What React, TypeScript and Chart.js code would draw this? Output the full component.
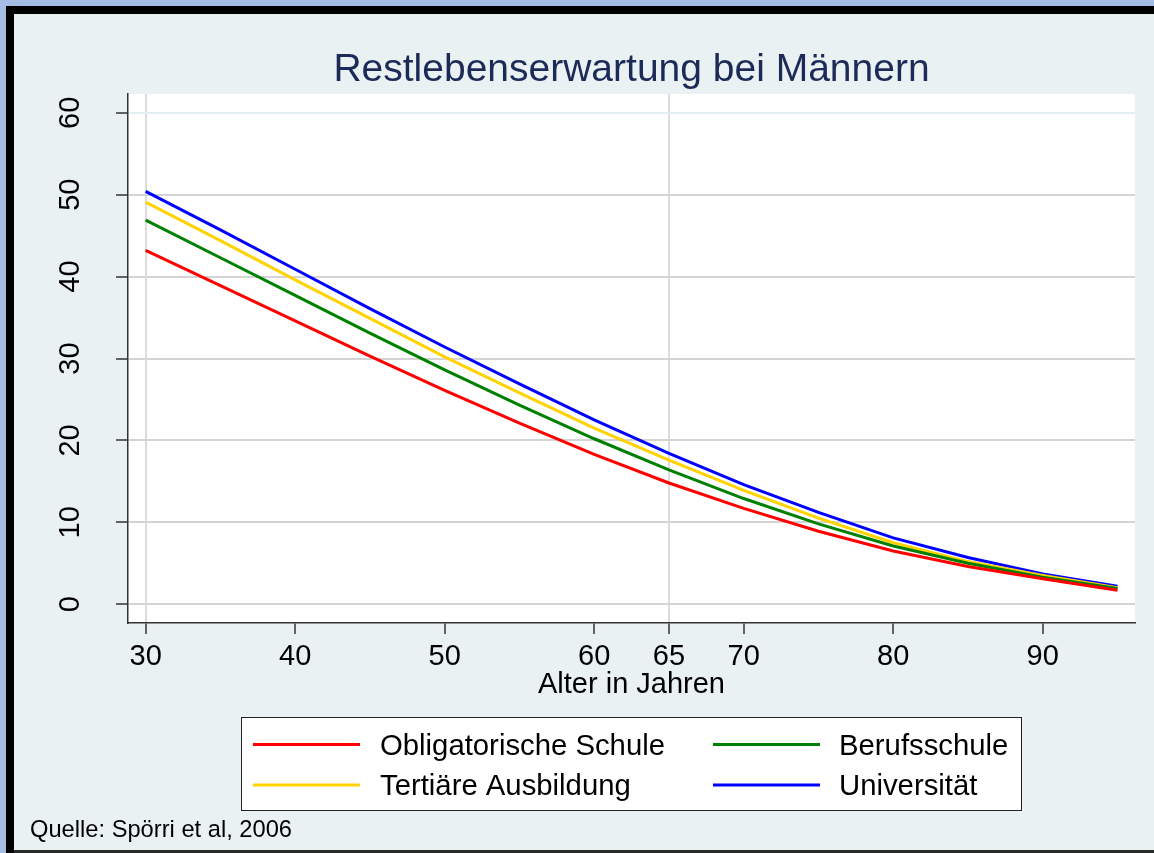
import React, { useEffect, useRef } from "react";
import { Chart, registerables } from "chart.js";

Chart.register(...registerables);

// ---- data ----
const AGES = [30, 35, 40, 45, 50, 55, 60, 65, 70, 75, 80, 85, 90, 95];
const OBLIGATORISCHE_SCHULE = [43.2, 38.9, 34.6, 30.3, 26.1, 22.1, 18.3, 14.8, 11.7, 8.9, 6.5, 4.6, 3.1, 1.7];
const BERUFSSCHULE = [46.9, 42.3, 37.7, 33.1, 28.6, 24.3, 20.2, 16.4, 12.9, 9.8, 7.1, 5.0, 3.3, 1.9];
const TERTIAERE_AUSBILDUNG = [49.1, 44.4, 39.6, 34.9, 30.2, 25.8, 21.5, 17.6, 13.9, 10.5, 7.5, 5.2, 3.5, 2.0];
const UNIVERSITAET = [50.4, 45.7, 40.9, 36.1, 31.4, 26.9, 22.5, 18.4, 14.6, 11.2, 8.1, 5.7, 3.7, 2.2];

const SERIES_LABELS = ["Obligatorische Schule", "Berufsschule", "Tertiäre Ausbildung", "Universität"];
const X_TICKS = [30, 40, 50, 60, 65, 70, 80, 90];
const X_GRID_VALUES = [30, 65];
const Y_TICKS = [0, 10, 20, 30, 40, 50, 60];

const TITLE = "Restlebenserwartung bei Männern";
const X_TITLE = "Alter in Jahren";
const SOURCE = "Quelle: Spörri et al, 2006";

const FONT = "'Liberation Sans', Arial, Helvetica, sans-serif";
const W = 1154;
const H = 853;

const toPoints = (vals: number[]) => AGES.map((a, i) => ({ x: a, y: vals[i] }));

const decorPlugin = {
  id: "decor",
  beforeDraw(chart: any) {
    const ctx = chart.ctx;
    const a = chart.chartArea;
    ctx.save();
    ctx.fillStyle = "#a5bde6";
    ctx.fillRect(0, 0, W, H);
    ctx.fillStyle = "#000000";
    ctx.fillRect(6, 6, W - 6, H - 6);
    ctx.fillStyle = "#eaf1f3";
    ctx.fillRect(14, 14, W - 14, 836);
    ctx.fillStyle = "#2a2a2a";
    ctx.fillRect(14, 850, W - 14, 3);
    ctx.fillStyle = "#ffffff";
    ctx.fillRect(a.left, a.top, a.right - a.left, a.bottom - a.top);
    ctx.restore();
  },
  afterDraw(chart: any) {
    const ctx = chart.ctx;
    const a = chart.chartArea;
    const cx = (a.left + a.right) / 2;
    ctx.save();
    // title
    ctx.fillStyle = "#1c2a58";
    ctx.font = `39px ${FONT}`;
    ctx.textAlign = "center";
    ctx.textBaseline = "alphabetic";
    ctx.fillText(TITLE, cx, 81);

    // y tick labels (rotated)
    const ys = chart.scales.y;
    ctx.fillStyle = "#000000";
    ctx.font = `29px ${FONT}`;
    for (const t of ys.ticks) {
      const py = ys.getPixelForValue(t.value);
      ctx.save();
      ctx.translate(79, py);
      ctx.rotate(-Math.PI / 2);
      ctx.textAlign = "center";
      ctx.textBaseline = "alphabetic";
      ctx.fillText(String(t.value), 0, 0);
      ctx.restore();
    }

    // x title
    ctx.font = `29px ${FONT}`;
    ctx.textAlign = "center";
    ctx.fillText(X_TITLE, cx, 693);

    // legend
    const box = { x: 241, y: 717, w: 780, h: 93 };
    ctx.fillStyle = "#ffffff";
    ctx.fillRect(box.x, box.y, box.w, box.h);
    ctx.strokeStyle = "#222222";
    ctx.lineWidth = 1;
    ctx.strokeRect(box.x + 0.5, box.y + 0.5, box.w, box.h);
    const cols = [{ lx: 253, tx: 380 }, { lx: 713, tx: 839 }];
    const rows = [{ ly: 744.5, ty: 755 }, { ly: 785, ty: 795 }];
    chart.data.datasets.forEach((ds: any, i: number) => {
      const c = cols[i % 2];
      const r = rows[Math.floor(i / 2)];
      ctx.strokeStyle = ds.borderColor;
      ctx.lineWidth = 3;
      ctx.beginPath();
      ctx.moveTo(c.lx, r.ly);
      ctx.lineTo(c.lx + 107, r.ly);
      ctx.stroke();
      ctx.fillStyle = "#000000";
      ctx.font = `29.3px ${FONT}`;
      ctx.textAlign = "left";
      ctx.fillText(ds.label, c.tx, r.ty);
    });

    // source
    ctx.font = `23.7px ${FONT}`;
    ctx.textAlign = "left";
    ctx.fillStyle = "#000000";
    ctx.fillText(SOURCE, 30, 837);
    ctx.restore();
  },
};

export default function App() {
  const ref = useRef<HTMLCanvasElement | null>(null);

  useEffect(() => {
    if (!ref.current) return;
    const colors = ["#ff0000", "#008000", "#ffd200", "#0000ff"];
    const series = [OBLIGATORISCHE_SCHULE, BERUFSSCHULE, TERTIAERE_AUSBILDUNG, UNIVERSITAET];
    const chart = new Chart(ref.current, {
      type: "line",
      data: {
        datasets: series.map((s, i) => ({
          label: SERIES_LABELS[i],
          data: toPoints(s),
          borderColor: colors[i],
          backgroundColor: colors[i],
          borderWidth: 3,
          pointRadius: 0,
          tension: 0,
          fill: false,
        })),
      },
      options: {
        responsive: false,
        animation: false,
        devicePixelRatio: 1,
        layout: { padding: { top: 94, right: 19, left: 0, bottom: 0 } },
        plugins: {
          legend: { display: false },
          title: { display: false },
          tooltip: { enabled: false },
        },
        scales: {
          x: {
            type: "linear",
            min: 28.82,
            max: 96.17,
            afterBuildTicks: (scale: any) => {
              scale.ticks = X_TICKS.map((v) => ({ value: v }));
            },
            afterFit: (scale: any) => {
              scale.height = 230;
            },
            ticks: {
              autoSkip: false,
              maxRotation: 0,
              minRotation: 0,
              padding: 6,
              color: "#000000",
              font: { family: FONT, size: 29 },
              callback: (v: any) => String(v),
            },
            grid: {
              color: (c: any) => (c.tick && X_GRID_VALUES.includes(c.tick.value) ? "#dcdcdc" : "rgba(0,0,0,0)"),
              lineWidth: 2,
              drawTicks: true,
              tickLength: 11,
              tickColor: "#333333",
              tickWidth: 1.5,
            },
            border: { display: true, color: "#333333", width: 1.5 },
          },
          y: {
            type: "linear",
            min: -2.3,
            max: 62.3,
            afterBuildTicks: (scale: any) => {
              scale.ticks = Y_TICKS.map((v) => ({ value: v }));
            },
            afterFit: (scale: any) => {
              scale.width = 128;
            },
            ticks: { display: false },
            grid: {
              color: (c: any) => (c.tick && c.tick.value === 60 ? "#e3eef0" : "#d4d4d4"),
              lineWidth: 2,
              drawTicks: true,
              tickLength: 12,
              tickColor: "#333333",
              tickWidth: 1.5,
            },
            border: { display: true, color: "#333333", width: 1.5 },
          },
        },
      },
      plugins: [decorPlugin],
    });
    return () => chart.destroy();
  }, []);

  return (
    <div style={{ position: "fixed", left: 0, top: 0, width: W, height: H }}>
      <canvas ref={ref} width={W} height={H} style={{ display: "block", width: W, height: H }} />
    </div>
  );
}
